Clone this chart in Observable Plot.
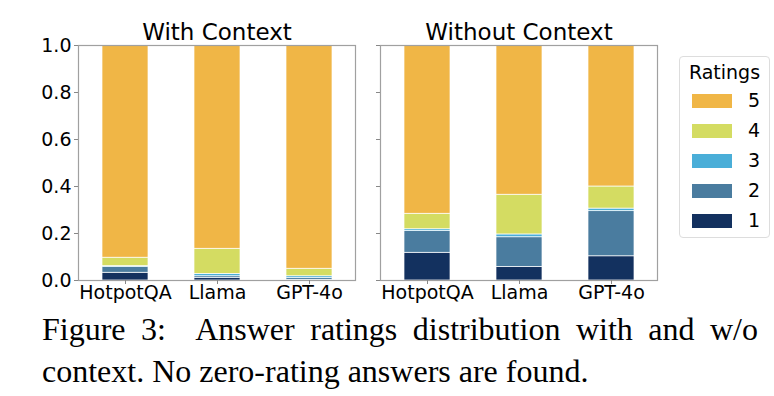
<!DOCTYPE html>
<html>
<head>
<meta charset="utf-8">
<script src="https://cdn.jsdelivr.net/npm/d3@7"></script>
<script src="https://cdn.jsdelivr.net/npm/@observablehq/plot@0.6"></script>
<style>
  html, body { margin: 0; padding: 0; background: #fff; }
  #root { position: relative; width: 774px; height: 396px; overflow: hidden; font-family: "DejaVu Sans", sans-serif; }
  .panel { position: absolute; top: 0; }
  #legend { position: absolute; left: 679px; top: 56px; width: 91px; height: 182px; border: 1px solid #ddd; border-radius: 4px; box-sizing: border-box; }
  #legend .title { position: absolute; left: 0; width: 100%; top: 4px; text-align: center; font-size: 19px; color: #000; }
  #legend .item { position: absolute; left: 12px; height: 16px; }
  #legend .sw { position: absolute; left: 0; top: 0; width: 40px; height: 14px; }
  #legend .lab { position: absolute; left: 56px; top: -5px; font-size: 19px; color: #000; }
  #caption { position: absolute; left: 42px; width: 716px; top: 308px; font-family: "Liberation Serif", "Times New Roman", serif; font-size: 32px; line-height: 42px; color: #000; }
  #caption .l1 { text-align: justify; text-align-last: justify; white-space: nowrap; }
</style>
</head>
<body>
<div id="root">
  <div id="left" class="panel" style="left:0px"></div>
  <div id="right" class="panel" style="left:370px"></div>
  <div id="legend"></div>
  <div id="caption"><div class="l1">Figure 3:&nbsp; Answer ratings distribution with and w/o</div><div>context. No zero-rating answers are found.</div></div>
</div>
<script>
const categories = ["HotpotQA", "Llama", "GPT-4o"];
const ratings = [1, 2, 3, 4, 5];
const ratingColors = ["#13315f", "#4a7c9f", "#4aaed8", "#d4dc62", "#f0b646"];
const panelTitles = ["With Context", "Without Context"];
const yTicks = [0, 0.2, 0.4, 0.6, 0.8, 1.0];
// proportions per rating (1..5) for each category
const withContext = {
  "HotpotQA": [0.033, 0.024, 0.004, 0.036, 0.903],
  "Llama":    [0.010, 0.008, 0.010, 0.107, 0.865],
  "GPT-4o":   [0.003, 0.007, 0.008, 0.032, 0.950]
};
const withoutContext = {
  "HotpotQA": [0.118, 0.092, 0.008, 0.066, 0.716],
  "Llama":    [0.058, 0.126, 0.012, 0.169, 0.635],
  "GPT-4o":   [0.103, 0.192, 0.011, 0.094, 0.600]
};

function toRows(src) {
  const rows = [];
  for (const c of categories) ratings.forEach((r, i) => rows.push({cat: c, rating: r, value: src[c][i]}));
  return rows;
}

function panel(src, title, showLabels, marginLeft) {
  const frameW = 277;
  return Plot.plot({
    width: marginLeft + frameW + 2,
    height: 310,
    marginLeft,
    marginRight: 2,
    marginTop: 45,
    marginBottom: 30,
    style: {fontFamily: "DejaVu Sans, sans-serif", fontSize: "19px", color: "#000", background: "transparent", overflow: "visible"},
    x: {domain: categories, paddingInner: 0.5, paddingOuter: 0.25, label: null},
    y: {domain: [0, 1], label: null},
    color: {domain: ratings, range: ratingColors},
    marks: [
      Plot.barY(toRows(src), {x: "cat", y: "value", fill: "rating", order: ratings, stroke: "white", strokeWidth: 0.7}),
      Plot.frame({stroke: "#a0a0a0", strokeWidth: 1.2}),
      Plot.axisY({ticks: yTicks, tickSize: 4, tickPadding: 3, stroke: "#888", fontSize: 19,
        tickFormat: showLabels ? d3.format(".1f") : () => ""}),
      Plot.axisX({tickSize: 4, tickPadding: 1, stroke: "#888", fontSize: 19}),
      Plot.text([title], {frameAnchor: "top", lineAnchor: "bottom", dy: -6, fontSize: 23, fill: "#000"})
    ]
  });
}

document.getElementById("left").appendChild(panel(withContext, panelTitles[0], true, 78));
document.getElementById("right").appendChild(panel(withoutContext, panelTitles[1], false, 10));

const legend = document.getElementById("legend");
const t = document.createElement("div"); t.className = "title"; t.textContent = "Ratings"; legend.appendChild(t);
ratings.slice().reverse().forEach((r, i) => {
  const it = document.createElement("div"); it.className = "item"; it.style.top = (37 + i * 30) + "px";
  const sw = document.createElement("div"); sw.className = "sw"; sw.style.background = ratingColors[ratings.indexOf(r)];
  const lab = document.createElement("div"); lab.className = "lab"; lab.textContent = r;
  it.appendChild(sw); it.appendChild(lab); legend.appendChild(it);
});
</script>
</body>
</html>
